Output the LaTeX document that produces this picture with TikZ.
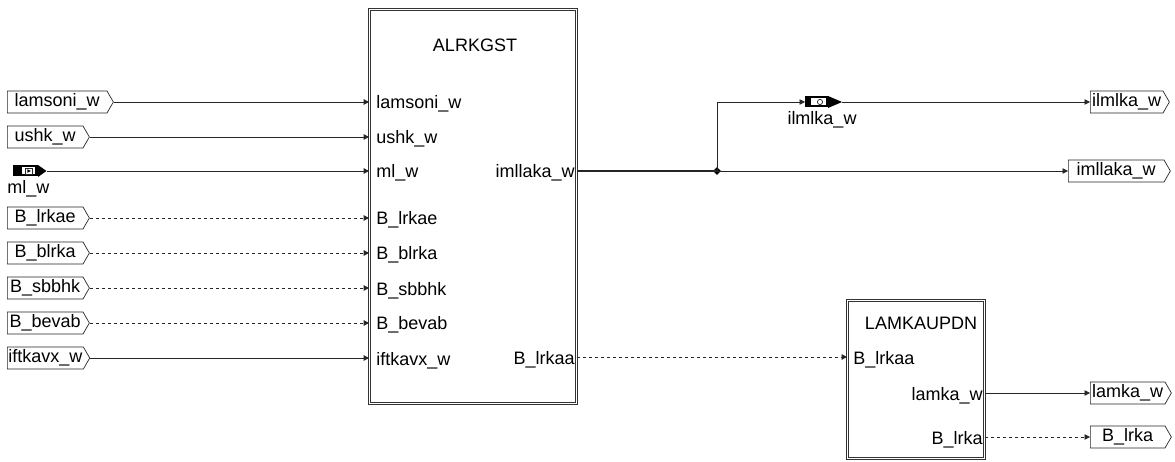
\documentclass[tikz,border=0pt]{standalone}
\usepackage{fontspec}
\setmainfont{Liberation Sans}
\usetikzlibrary{arrows.meta,shapes.symbols,shapes.geometric}
\begin{document}
\begin{tikzpicture}[x=1pt,y=-1pt,
  font=\fontsize{18}{21}\selectfont,
  line width=0.8pt, draw=black!85,
  sig/.style={draw=black!85, signal, signal to=east, signal pointer angle=120,
    minimum height=22pt, inner sep=1pt, anchor=west, line width=0.7pt},
  blk/.style={draw=black!80, line width=0.8pt, double, double distance=1.6pt, inner sep=0pt},
  lbl/.style={inner sep=0pt},
  arr/.style={-{Triangle[length=5.5pt,width=5.5pt]}},
  dsh/.style={dash pattern=on 3pt off 3pt},
  jdot/.style={diamond, fill=black, inner sep=0pt, minimum size=8pt}
]
\useasboundingbox (0,0) rectangle (1175,462);

% main blocks
\node[blk, minimum width=207pt, minimum height=394pt] (A) at (473,206.5) {};
\node[lbl] (At) at (475,45) {ALRKGST};
\node[blk, minimum width=137pt, minimum height=158pt] (L) at (916,379.5) {};
\node[lbl] (Lt) at (921,323) {LAMKAUPDN};

% ALRKGST port labels
\node[lbl, anchor=base west] (Ap1) at (376,109) {lamsoni\_w};
\node[lbl, anchor=base west] (Ap2) at (376,144) {ushk\_w};
\node[lbl, anchor=base west] (Ap3) at (376,178) {ml\_w};
\node[lbl, anchor=base west] (Ap4) at (376,225) {B\_lrkae};
\node[lbl, anchor=base west] (Ap5) at (376,260) {B\_blrka};
\node[lbl, anchor=base west] (Ap6) at (376,295) {B\_sbbhk};
\node[lbl, anchor=base west] (Ap7) at (376,330) {B\_bevab};
\node[lbl, anchor=base west] (Ap8) at (376,365) {iftkavx\_w};
\node[lbl, anchor=base east] (Ao1) at (575,178) {imllaka\_w};
\node[lbl, anchor=base east] (Ao2) at (575,364) {B\_lrkaa};

% LAMKAUPDN port labels
\node[lbl, anchor=base west] (Lp1) at (853,364) {B\_lrkaa};
\node[lbl, anchor=base east] (Lo1) at (983,400) {lamka\_w};
\node[lbl, anchor=base east] (Lo2) at (983,444) {B\_lrka};

% input boxes
\node[sig, minimum width=106pt] (in1) at (7,102) {lamsoni\_w};
\node[sig, minimum width=82pt] (in2) at (7,137) {ushk\_w};
\node[sig, minimum width=82pt] (in4) at (7,218) {B\_lrkae};
\node[sig, minimum width=82pt] (in5) at (7,253) {B\_blrka};
\node[sig, minimum width=82pt] (in6) at (7,288) {B\_sbbhk};
\node[sig, minimum width=82pt] (in7) at (7,323) {B\_bevab};
\node[sig, minimum width=82pt] (in8) at (7,358) {iftkavx\_w};

% ml_w input symbol
\fill[black] (13,165.5) rectangle (38,176.5);
\fill[white] (22,167.5) rectangle (35,174.5);
\draw[line width=0.6pt] (25.5,168) rectangle (32.5,174);
\fill[black] (27.4,169.3) -- (31,171) -- (27.4,172.7) -- cycle;
\fill[black] (38,165) -- (46.5,171) -- (38,177) -- cycle;
\coordinate (mltip) at (46.5,171);
\node[lbl, anchor=base west] (mllbl) at (7,194) {ml\_w};

% output boxes
\node[sig, minimum width=79pt] (out1) at (1090,102) {ilmlka\_w};
\node[sig, minimum width=102pt] (out2) at (1068,171) {imllaka\_w};
\node[sig, minimum width=81pt] (out3) at (1090,393) {lamka\_w};
\node[sig, minimum width=81pt] (out4) at (1090,437) {B\_lrka};

% ilmlka_w symbol
\fill[black] (805,96.5) rectangle (828,107.5);
\fill[white] (811,98.5) rectangle (825.5,105.5);
\draw[line width=0.7pt] (820,102) circle (2.6pt);
\fill[black] (828,96) -- (842,102) -- (828,108) -- cycle;
\coordinate (ilin) at (805,102);
\coordinate (ilout) at (842,102);
\node[lbl, anchor=base] (illbl) at (822,125) {ilmlka\_w};

% junction
\node[jdot] (J) at (717,171) {};

% input connectors
\draw[arr] (in1.east) -- (in1.east -| A.west);
\draw[arr] (in2.east) -- (in2.east -| A.west);
\draw[arr] (mltip) -- (mltip -| A.west);
\draw[arr,dsh] (in4.east) -- (in4.east -| A.west);
\draw[arr,dsh] (in5.east) -- (in5.east -| A.west);
\draw[arr,dsh] (in6.east) -- (in6.east -| A.west);
\draw[arr,dsh] (in7.east) -- (in7.east -| A.west);
\draw[arr] (in8.east) -- (in8.east -| A.west);

% output connectors
\draw[line width=1.3pt] (J.center -| A.east) -- (J.center);
\draw[arr] (J.center) -- (J.center -| out2.west);
\draw[arr] (J.center) |- (ilin);
\draw[arr] (ilout) -- (ilout -| out1.west);
\draw[arr,dsh] (A.east |- 0,357) -- (L.west |- 0,357);
\draw[arr] (L.east |- out3.west) -- (out3.west);
\draw[arr,dsh] (L.east |- out4.west) -- (out4.west);
\end{tikzpicture}
\end{document}
